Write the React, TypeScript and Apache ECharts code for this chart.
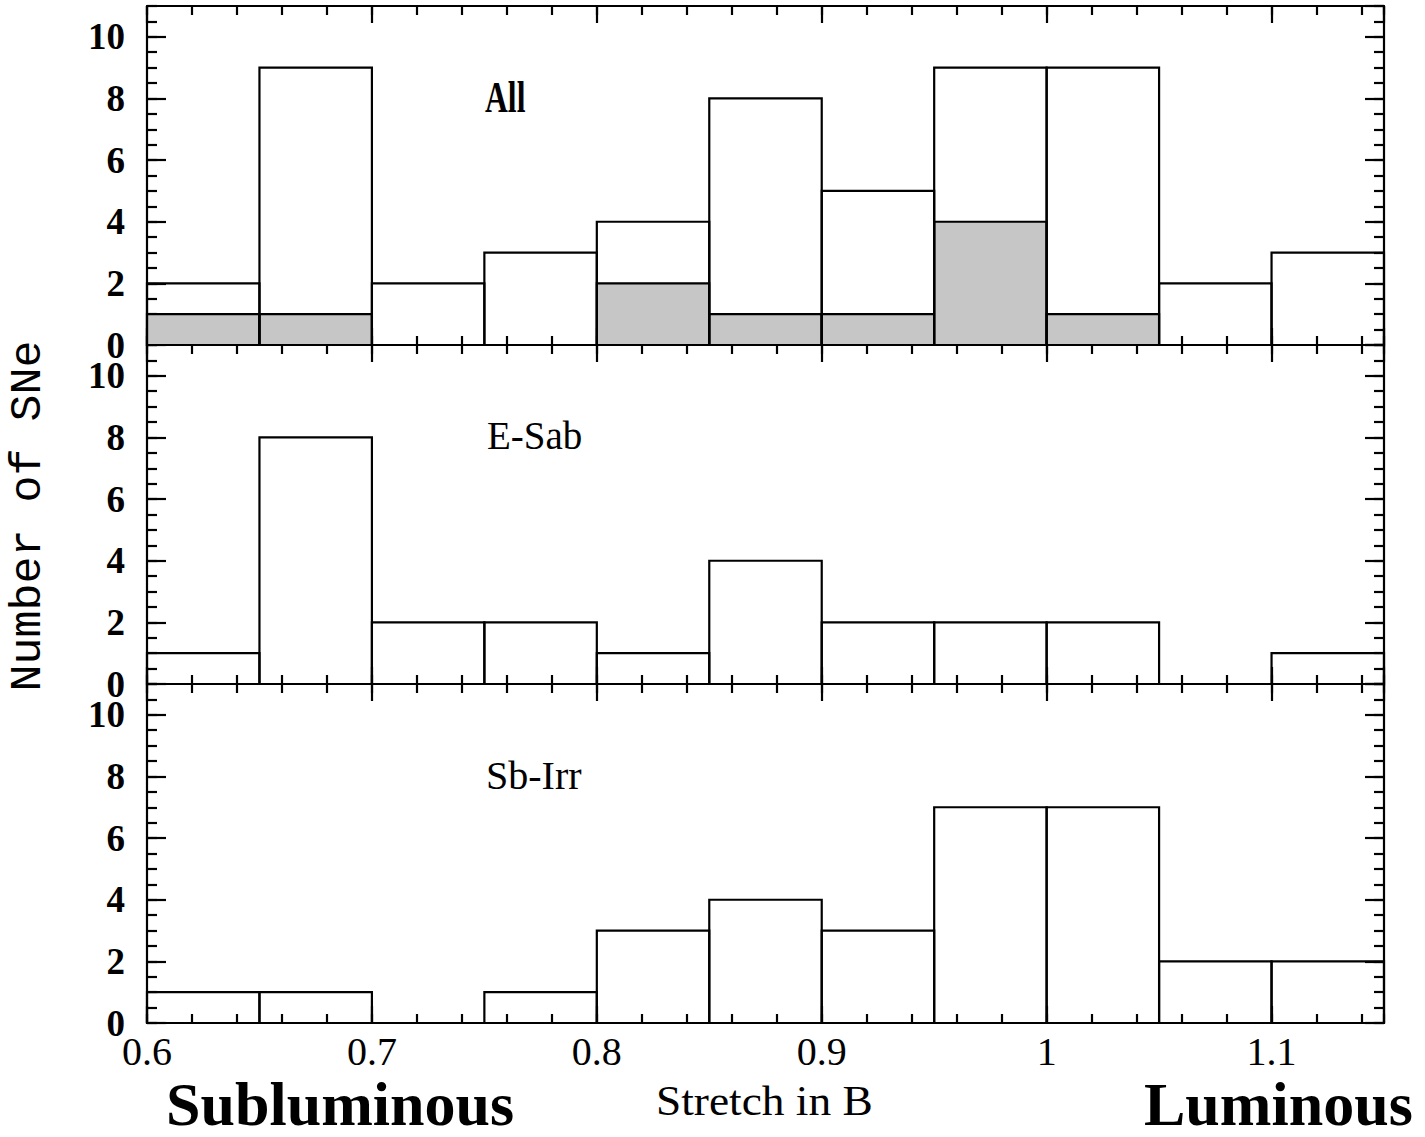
import React, { useEffect, useRef } from "react";
import * as echarts from "echarts";

// Bin left edges and right edges (stretch in B)
const binStarts = [0.6, 0.65, 0.7, 0.75, 0.8, 0.85, 0.9, 0.95, 1.0, 1.05, 1.1];
const binEnds = [0.65, 0.7, 0.75, 0.8, 0.85, 0.9, 0.95, 1.0, 1.05, 1.1, 1.15];

// Counts per bin
const allCounts = [2, 9, 2, 3, 4, 8, 5, 9, 9, 2, 3];
const allShaded = [1, 1, 0, 0, 2, 1, 1, 4, 1, 0, 0];
const eSabCounts = [1, 8, 2, 2, 1, 4, 2, 2, 2, 0, 1];
const sbIrrCounts = [1, 1, 0, 1, 3, 4, 3, 7, 7, 2, 2];

const panelLabels = ["All", "E-Sab", "Sb-Irr"];
const xTitle = "Stretch in B";
const yTitle = "Number of SNe";
const leftNote = "Subluminous";
const rightNote = "Luminous";

const X_MIN = 0.6;
const X_MAX = 1.15;
const Y_MIN = 0;
const Y_MAX = 11;

const GRID_LEFT = 147;
const GRID_WIDTH = 1237;
const GRID_TOPS = [6, 345, 684];
const GRID_HEIGHT = 339;

const SERIF = "'Liberation Serif', 'DejaVu Serif', serif";

function toData(counts: number[]) {
  return counts.map((c, i) => [binStarts[i], binEnds[i], c]);
}

function makeRenderItem(fill: string) {
  return (params: any, api: any) => {
    const x0 = api.value(0);
    const x1 = api.value(1);
    const v = api.value(2);
    if (!v) return null;
    const p0 = api.coord([x0, v]);
    const p1 = api.coord([x1, 0]);
    return {
      type: "rect",
      shape: { x: p0[0], y: p0[1], width: p1[0] - p0[0], height: p1[1] - p0[1] },
      style: { fill, stroke: "#000", lineWidth: 2.2 },
    };
  };
}

export default function App() {
  const ref = useRef<HTMLDivElement>(null);

  useEffect(() => {
    if (!ref.current) return;
    const chart = echarts.init(ref.current, null, { renderer: "svg" });

    const grids: any[] = [];
    const xAxes: any[] = [];
    const yAxes: any[] = [];
    const lineStyle = { color: "#000", width: 2.2 };

    GRID_TOPS.forEach((top, g) => {
      grids.push({ left: GRID_LEFT, top, width: GRID_WIDTH, height: GRID_HEIGHT, show: false });
      const isLast = g === GRID_TOPS.length - 1;
      // x bottom major
      xAxes.push({
        type: "value", gridIndex: g, position: "bottom", min: X_MIN, max: X_MAX, interval: 0.1,
        axisLine: { show: true, onZero: false, lineStyle },
        axisTick: { show: true, inside: true, length: 17, lineStyle },
        splitLine: { show: false },
        axisLabel: {
          show: isLast, showMaxLabel: false, margin: 8,
          fontFamily: SERIF, fontSize: 40, color: "#000",
          formatter: (v: number) => String(Math.round(v * 10) / 10),
        },
      });
      // x bottom minor
      xAxes.push({
        type: "value", gridIndex: g, position: "bottom", min: X_MIN, max: X_MAX, interval: 0.02,
        axisLine: { show: false, onZero: false },
        axisTick: { show: true, inside: true, length: 9, lineStyle },
        splitLine: { show: false }, axisLabel: { show: false },
      });
      // x top major
      xAxes.push({
        type: "value", gridIndex: g, position: "top", min: X_MIN, max: X_MAX, interval: 0.1,
        axisLine: { show: true, onZero: false, lineStyle },
        axisTick: { show: true, inside: true, length: 17, lineStyle },
        splitLine: { show: false }, axisLabel: { show: false },
      });
      // x top minor
      xAxes.push({
        type: "value", gridIndex: g, position: "top", min: X_MIN, max: X_MAX, interval: 0.02,
        axisLine: { show: false, onZero: false },
        axisTick: { show: true, inside: true, length: 9, lineStyle },
        splitLine: { show: false }, axisLabel: { show: false },
      });
      // y left major
      yAxes.push({
        type: "value", gridIndex: g, position: "left", min: Y_MIN, max: Y_MAX, interval: 2,
        axisLine: { show: true, onZero: false, lineStyle },
        axisTick: { show: true, inside: true, length: 19, lineStyle },
        splitLine: { show: false },
        axisLabel: {
          show: true, showMaxLabel: false, margin: 22,
          fontFamily: SERIF, fontWeight: "bold", fontSize: 37, lineHeight: 30, color: "#000",
        },
      });
      // y left minor
      yAxes.push({
        type: "value", gridIndex: g, position: "left", min: Y_MIN, max: Y_MAX, interval: 0.5,
        axisLine: { show: false, onZero: false },
        axisTick: { show: true, inside: true, length: 10, lineStyle },
        splitLine: { show: false }, axisLabel: { show: false },
      });
      // y right major
      yAxes.push({
        type: "value", gridIndex: g, position: "right", min: Y_MIN, max: Y_MAX, interval: 2,
        axisLine: { show: true, onZero: false, lineStyle },
        axisTick: { show: true, inside: true, length: 19, lineStyle },
        splitLine: { show: false }, axisLabel: { show: false },
      });
      // y right minor
      yAxes.push({
        type: "value", gridIndex: g, position: "right", min: Y_MIN, max: Y_MAX, interval: 0.5,
        axisLine: { show: false, onZero: false },
        axisTick: { show: true, inside: true, length: 10, lineStyle },
        splitLine: { show: false }, axisLabel: { show: false },
      });
    });

    const series: any[] = [
      {
        type: "custom", name: "All shaded", xAxisIndex: 0, yAxisIndex: 0, z: 3,
        renderItem: makeRenderItem("#c6c6c6"), data: toData(allShaded),
      },
      {
        type: "custom", name: "All", xAxisIndex: 0, yAxisIndex: 0, z: 4,
        renderItem: makeRenderItem("none"), data: toData(allCounts),
      },
      {
        type: "custom", name: "E-Sab", xAxisIndex: 4, yAxisIndex: 4, z: 4,
        renderItem: makeRenderItem("none"), data: toData(eSabCounts),
      },
      {
        type: "custom", name: "Sb-Irr", xAxisIndex: 8, yAxisIndex: 8, z: 4,
        renderItem: makeRenderItem("none"), data: toData(sbIrrCounts),
      },
    ];

    const labelYs = [97, 435, 775];
    const graphic: any[] = [
      {
        type: "text", x: 485, y: labelYs[0], scaleX: 0.72, z: 10,
        style: { text: panelLabels[0], x: 0, y: 0, align: "left", verticalAlign: "middle",
          font: `bold 44px ${SERIF}`, fill: "#000" },
      },
      {
        type: "text", x: 487, y: labelYs[1], z: 10,
        style: { text: panelLabels[1], x: 0, y: 0, align: "left", verticalAlign: "middle",
          font: `39px ${SERIF}`, fill: "#000" },
      },
      {
        type: "text", x: 486, y: labelYs[2], z: 10,
        style: { text: panelLabels[2], x: 0, y: 0, align: "left", verticalAlign: "middle",
          font: `40px ${SERIF}`, fill: "#000" },
      },
      {
        type: "text", x: 656, y: 1101, scaleX: 1.08, z: 10,
        style: { text: xTitle, x: 0, y: 0, align: "left", verticalAlign: "middle",
          font: `42px ${SERIF}`, fill: "#000" },
      },
      {
        type: "text", x: 28, y: 516, rotation: Math.PI / 2, z: 10,
        style: { text: yTitle, x: 0, y: 0, align: "center", verticalAlign: "middle",
          font: `45px 'Liberation Mono', 'DejaVu Sans Mono', monospace`, fill: "#000" },
      },
      {
        type: "text", x: 166, y: 1104, z: 10,
        style: { text: leftNote, x: 0, y: 0, align: "left", verticalAlign: "middle",
          font: `bold 62px ${SERIF}`, lineHeight: 48, fill: "#000" },
      },
      {
        type: "text", x: 1144, y: 1104, z: 10,
        style: { text: rightNote, x: 0, y: 0, align: "left", verticalAlign: "middle",
          font: `bold 62px ${SERIF}`, lineHeight: 48, fill: "#000" },
      },
    ];

    chart.setOption({
      animation: false,
      backgroundColor: "#fff",
      grid: grids,
      xAxis: xAxes,
      yAxis: yAxes,
      series,
      graphic,
    });

    return () => chart.dispose();
  }, []);

  return (
    <div
      ref={ref}
      style={{ position: "absolute", left: 0, top: 0, width: 1425, height: 1137 }}
    />
  );
}
